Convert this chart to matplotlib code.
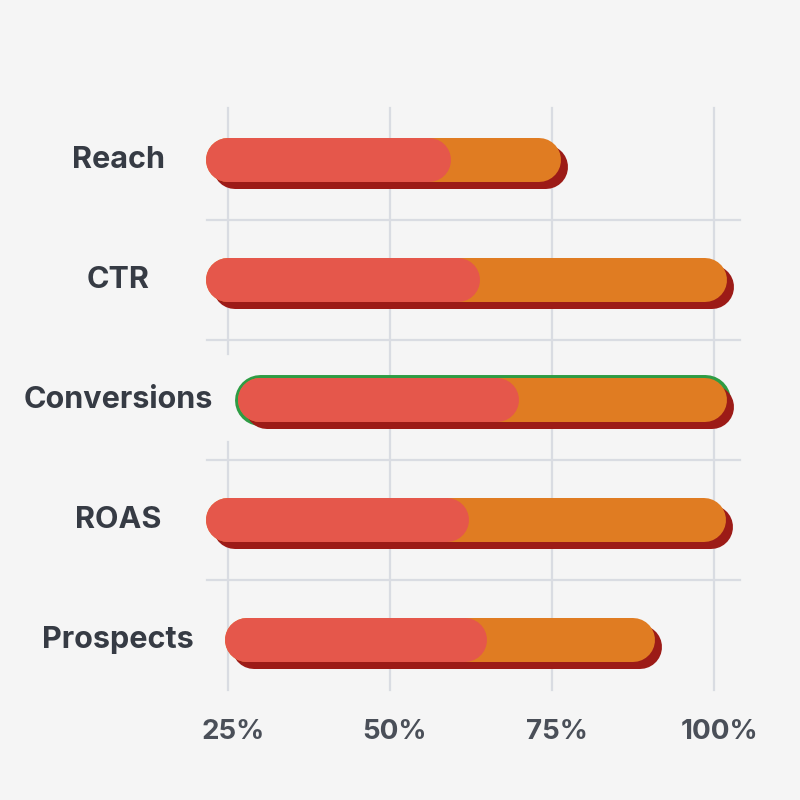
import matplotlib
matplotlib.use("Agg")
import matplotlib.pyplot as plt

categories = ["Reach", "CTR", "Conversions", "ROAS", "Prospects"]
start_vals = [25, 25, 30, 25, 28]
red_vals = [56, 60.5, 66.5, 58.8, 61.5]
end_vals = [73, 98.6, 98.6, 98.5, 87.5]
highlight = "Conversions"
xticks = [25, 50, 75, 100]
xtick_labels = ["25%", "50%", "75%", "100%"]

BG = "#f5f5f5"
RED = "#e5574b"
ORANGE = "#e07c22"
SHADOW = "#9c1b17"
GREEN = "#2e9c44"
GRID = "#d9dce2"
TEXT = "#363b44"

plt.rcParams['font.family'] = ['Inter', 'DejaVu Sans']

fig = plt.figure(figsize=(8, 8), dpi=100)
fig.patch.set_facecolor(BG)
ax = fig.add_axes([0, 0, 1, 1])
ax.set_facecolor(BG)
# pixel mapping: 25% -> 228px, 100% -> 714px ; rows every 120px starting 160px
ppu = (714 - 228) / 75.0
ax.set_xlim(25 - 228 / ppu, 25 + (800 - 228) / ppu)
ax.set_ylim((800 - 160) / 120.0, -160 / 120.0)
ax.axis('off')

lw = 44 * 72 / 100.0
dx = 7 / ppu
dy = 7 / 120.0

n = len(categories)
hi = categories.index(highlight)

# grid
for j, xv in enumerate(xticks):
    if j == 0:
        ax.plot([xv, xv], [-0.43, hi - 0.38], color=GRID, lw=1.6, zorder=0)
        ax.plot([xv, xv], [hi + 0.35, n - 0.58], color=GRID, lw=1.6, zorder=0)
    else:
        ax.plot([xv, xv], [-0.43, n - 0.58], color=GRID, lw=1.6, zorder=0)
for i in range(n - 1):
    ax.plot([25 - 21 / ppu, 100 + 26 / ppu], [i + 0.5, i + 0.5], color=GRID, lw=1.6, zorder=0)

for i, cat in enumerate(categories):
    s, r, e = start_vals[i], red_vals[i], end_vals[i]
    if cat == highlight:
        ax.plot([s, e], [i, i], color=GREEN, lw=lw + 5, solid_capstyle='round', zorder=1)
    ax.plot([s + dx, e + dx], [i + dy, i + dy], color=SHADOW, lw=lw,
            solid_capstyle='round', zorder=2)
    ax.plot([s, e], [i, i], color=ORANGE, lw=lw, solid_capstyle='round', zorder=3)
    ax.plot([s, r], [i, i], color=RED, lw=lw, solid_capstyle='round', zorder=4)
    ax.text(25 - 110 / ppu, i, cat, ha='center', va='center', fontsize=22,
            fontweight='bold', color=TEXT, zorder=5)

for xv, lab in zip(xticks, xtick_labels):
    ax.text(xv + 5 / ppu, n - 0.23, lab, ha='center', va='center', fontsize=20,
            fontweight='bold', color="#4a4f58", zorder=5)

fig.savefig("out.png", dpi=100, facecolor=BG)
